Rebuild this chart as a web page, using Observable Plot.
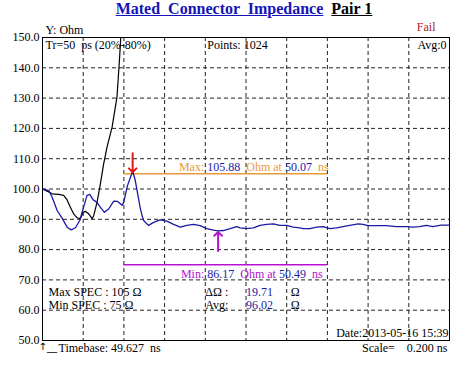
<!DOCTYPE html>
<html><head><meta charset="utf-8">
<script src="https://cdn.jsdelivr.net/npm/d3@7"></script>
<script src="https://cdn.jsdelivr.net/npm/@observablehq/plot@0.6"></script>
<style>
body{margin:0;background:#fff;width:466px;height:366px;overflow:hidden;}
#title{height:22px;line-height:20px;font:bold 16px "Liberation Serif","Times New Roman",serif;text-align:center;padding-left:22px;white-space:pre;}
.u{text-decoration:underline;}
svg text{white-space:pre;}
</style></head><body>
<div id="title"><span class="u" style="color:#1414b8">Mated  Connector  Impedance</span>  <span class="u" style="color:#000">Pair 1</span></div>
<div id="chart"></div>
<script>
// ---- data ----
const TIMEBASE = 49.627;   // ns
const SCALE = 0.2;         // ns / div
const DIVS = 10;
const Y_TICKS = [50, 60, 70, 80, 90, 100, 110, 120, 130, 140, 150];
const MAX_SPEC = 105, MIN_SPEC = 75;
const MAX_VAL = 105.88, MAX_T = 50.07;
const MIN_VAL = 86.17, MIN_T = 50.49;
const DELTA = 19.71, AVG = 96.02;
const TR = 50, POINTS = 1024, AVG_N = 0;
const DATE = "2013-05-16 15:39";

const T_BLUE = [49.627,49.658,49.6745,49.699,49.724,49.748,49.768,49.789,49.810,49.829,49.846,49.859,49.876,49.895,49.911,49.931,49.952,49.977,49.996,50.018,50.026,50.045,50.07,50.083,50.099,50.107,50.116,50.124,50.140,50.148,50.173,50.205,50.238,50.271,50.304,50.336,50.369,50.402,50.434,50.467,50.49,50.516,50.549,50.581,50.598,50.630,50.663,50.696,50.728,50.761,50.794,50.827,50.859,50.892,50.908,50.941,50.974,51.006,51.039,51.072,51.104,51.137,51.178,51.202,51.227,51.268,51.317,51.366,51.415,51.447,51.480,51.513,51.545,51.586,51.627];
const Z_BLUE = [100.0,99.5,97.3,92.9,90.3,87.4,86.5,87.2,89.6,94.0,97.9,98.2,96.4,95.6,94.0,92.3,93.4,96.0,95.9,94.6,95.6,101.2,105.88,102.8,96.8,93.8,91.3,89.6,88.5,88.0,89.0,89.8,89.4,88.3,87.4,88.0,88.3,87.9,86.9,86.4,86.17,86.3,86.9,87.6,87.2,86.9,87.2,88.0,88.3,88.5,88.0,88.0,87.4,87.2,86.9,86.9,87.4,87.6,86.9,87.2,87.6,88.0,88.5,88.3,87.9,87.9,87.9,87.6,87.6,87.4,87.6,88.0,87.6,88.1,88.1];

const T_BLACK = [49.627,49.650,49.6745,49.707,49.731,49.748,49.764,49.780,49.797,49.813,49.8265,49.838,49.854,49.871,49.8785,49.895,49.911,49.9275,49.944,49.969,49.993,50.006,50.012];
const Z_BLACK = [100.0,99.3,98.4,98.2,97.9,96.4,94.0,91.8,90.5,90.2,92.3,92.6,91.8,90.2,91.2,95.6,101.5,108.3,113.8,120.4,130.3,143.5,150.5];

// ---- derived ----
const blue = T_BLUE.map((t, i) => ({t, z: Z_BLUE[i]}));
const black = T_BLACK.map((t, i) => ({t, z: Z_BLACK[i]}));
const X_GRID = d3.range(1, DIVS).map(i => TIMEBASE + i * SCALE);
const X_END = TIMEBASE + DIVS * SCALE;
const SPEC_X1 = X_GRID[1], SPEC_X2 = X_GRID[6];

const BLUE = "#1a1aa6", NUM = "#1c1ca8", ORANGE = "#e89a38", MAGENTA = "#b810d0", RED = "#e01818";
const FONT = '"Liberation Serif","Times New Roman",serif';

const maxSegs = [["Max:", ORANGE], [" " + MAX_VAL.toFixed(2), NUM], ["  Ohm at ", ORANGE], [MAX_T.toFixed(2), NUM], ["  ns", ORANGE]];
const minSegs = [["Min:", MAGENTA], [" " + MIN_VAL.toFixed(2), NUM], ["  Ohm at ", MAGENTA], [MIN_T.toFixed(2), NUM], ["  ns", MAGENTA]];
const joinSegs = s => s.map(d => d[0]).join("");

const T = (text, o) => Plot.text([text], {text: d => d, lineAnchor: "middle", ...o});

const chart = Plot.plot({
  width: 466, height: 344,
  marginLeft: 42, marginRight: 17, marginTop: 15, marginBottom: 26,
  style: {fontFamily: FONT, fontSize: "12px", background: "white", overflow: "visible", color: "black"},
  x: {domain: [TIMEBASE, X_END], axis: null},
  y: {domain: [50, 150], ticks: Y_TICKS, tickFormat: d => d.toFixed(1), tickSize: 0, tickPadding: 3, label: null},
  marks: [
    Plot.ruleY(Y_TICKS.slice(1, -1), {stroke: "#222", strokeDasharray: "4,3"}),
    Plot.ruleX(X_GRID, {stroke: "#222", strokeDasharray: "4,3"}),
    Plot.ruleY([MAX_SPEC], {x1: SPEC_X1, x2: SPEC_X2, stroke: ORANGE, strokeWidth: 1.5}),
    Plot.ruleY([MIN_SPEC], {x1: SPEC_X1, x2: SPEC_X2, stroke: MAGENTA, strokeWidth: 1.5}),
    Plot.line(black, {x: "t", y: "z", stroke: "black", strokeWidth: 1.2, clip: true}),
    Plot.line(blue, {x: "t", y: "z", stroke: BLUE, strokeWidth: 1.3, clip: true}),
    Plot.frame({stroke: "black"}),
    Plot.vector([{t: MAX_T, z: MAX_VAL}], {x: "t", y: "z", rotate: 180, length: 19, anchor: "end", stroke: RED, strokeWidth: 2, dy: 1}),
    Plot.vector([{t: MIN_T, z: MIN_VAL}], {x: "t", y: "z", rotate: 0, length: 19, anchor: "end", stroke: MAGENTA, strokeWidth: 2, dy: 1}),
    T(joinSegs(maxSegs), {x: () => SPEC_X1, y: () => MAX_SPEC, dx: 55, dy: -7, textAnchor: "start"}),
    T(joinSegs(minSegs), {x: () => SPEC_X1, y: () => MIN_SPEC, dx: 57, dy: 9, textAnchor: "start"}),
    T("Y: Ohm", {frameAnchor: "top-left", dx: 3, dy: -7, textAnchor: "start"}),
    T("Fail", {frameAnchor: "top-right", dx: -14, dy: -10, textAnchor: "end", fill: "#b01818"}),
    T(`Tr=${TR}  ps (20%-80%)`, {frameAnchor: "top-left", dx: 3, dy: 8, textAnchor: "start"}),
    T(`Points: ${POINTS}`, {x: () => X_GRID[3], frameAnchor: "top", dx: 2, dy: 8, textAnchor: "start"}),
    T(`Avg:${AVG_N}`, {frameAnchor: "top-right", dx: -3, dy: 8, textAnchor: "end"}),
    T(`Max SPEC : ${MAX_SPEC} Ω`, {frameAnchor: "bottom-left", dx: 6, dy: -48, textAnchor: "start"}),
    T(`Min SPEC : ${MIN_SPEC} Ω`, {frameAnchor: "bottom-left", dx: 6, dy: -35, textAnchor: "start"}),
    T("ΔΩ :", {x: () => X_GRID[3], frameAnchor: "bottom", dy: -48, textAnchor: "start"}),
    T("Avg:", {x: () => X_GRID[3], frameAnchor: "bottom", dy: -35, textAnchor: "start"}),
    T(DELTA.toFixed(2), {x: () => X_GRID[4], frameAnchor: "bottom", dy: -48, textAnchor: "start", fill: NUM}),
    T(AVG.toFixed(2), {x: () => X_GRID[4], frameAnchor: "bottom", dy: -35, textAnchor: "start", fill: NUM}),
    T("Ω", {x: () => X_GRID[5], frameAnchor: "bottom", dx: 4, dy: -48, textAnchor: "start"}),
    T("Ω", {x: () => X_GRID[5], frameAnchor: "bottom", dx: 4, dy: -35, textAnchor: "start"}),
    T(`Date:${DATE}`, {frameAnchor: "bottom-right", dx: -1, dy: -7, textAnchor: "end"}),
    T("↑__", {frameAnchor: "bottom-left", dx: -4, dy: 6, textAnchor: "start", fontFamily: "DejaVu Sans", fontSize: 10, letterSpacing: "-2px"}),
    T(`Timebase: ${TIMEBASE.toFixed(3)}  ns`, {frameAnchor: "bottom-left", dx: 16, dy: 8, textAnchor: "start"}),
    T(`Scale=    ${SCALE.toFixed(3)} ns`, {frameAnchor: "bottom-right", dx: -2, dy: 8, textAnchor: "end"})
  ]
});
chart.setAttribute("xml:space", "preserve");
document.getElementById("chart").appendChild(chart);

// colour the segments of the rich annotations
function colorize(segs) {
  const full = joinSegs(segs);
  d3.select(chart).selectAll("text").filter(function() { return this.textContent === full; })
    .each(function() {
      const el = d3.select(this);
      el.text(null).attr("fill", null);
      for (const [s, c] of segs) el.append("tspan").attr("fill", c).text(s);
    });
}
colorize(maxSegs);
colorize(minSegs);
</script>
</body></html>
